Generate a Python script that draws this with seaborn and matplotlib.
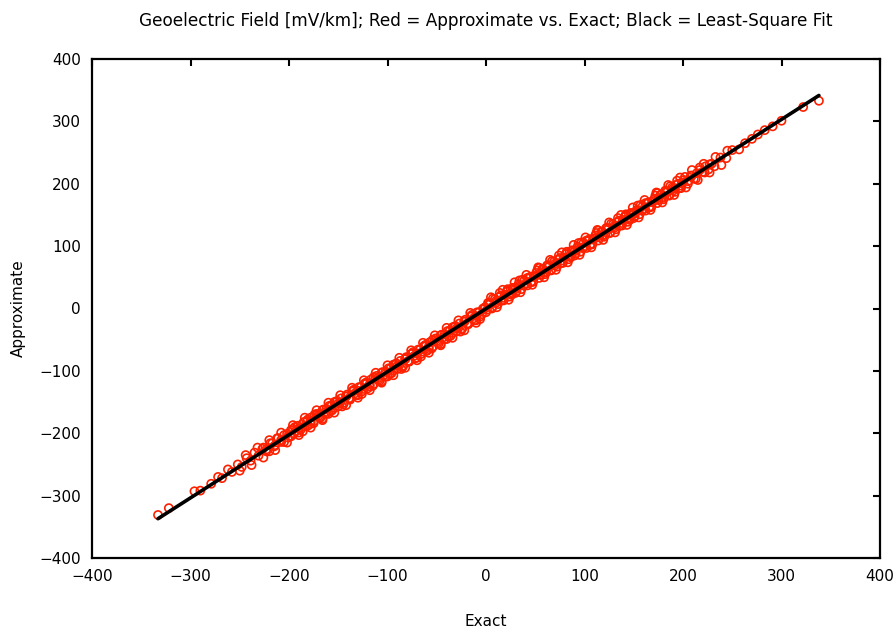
import numpy as np
import pandas as pd
import matplotlib
matplotlib.use("Agg")
import matplotlib.pyplot as plt
import seaborn as sns

# Values (Exact vs Approximate, mV/km)
exact_neg = [-333, -322, -296, -290, -279, -272, -268, -262, -258, -252, -248, -243, -239, -235,
             -231, -227, -223, -219, -215, -212, -208, -205, -201, -198, -195, -191, -188, -185,
             -181, -178, -175, -172, -168, -165, -162, -159, -156, -153, -150, -147, -144, -141,
             -138, -135, -132, -129, -126, -123, -120, -117, -114, -111, -108, -105, -102, -99,
             -96, -93, -90, -87, -84, -81, -78, -75, -72, -69, -66, -63, -60, -57, -54, -51,
             -48, -45, -42, -39, -36, -33, -30, -27, -24, -21, -18, -15, -12, -9, -6, -3, 0]
approx_neg = [-331, -320, -293, -292, -281, -270, -272, -258, -262, -250, -254, -240, -244, -231,
              -236, -225, -229, -216, -221, -208, -214, -203, -207, -195, -201, -188, -194, -182,
              -188, -175, -181, -169, -175, -162, -168, -156, -163, -150, -157, -144, -151, -138,
              -146, -132, -139, -126, -133, -120, -128, -114, -121, -108, -116, -102, -109, -96,
              -104, -90, -97, -84, -92, -78, -85, -72, -80, -66, -73, -60, -68, -54, -61, -48,
              -56, -42, -49, -36, -44, -30, -37, -24, -32, -18, -25, -12, -19, -6, -13, 0, -6]
exact_pos = [3, 6, 9, 12, 15, 18, 21, 24, 27, 30, 33, 36, 39, 42, 45, 48, 51, 54, 57, 60, 63, 66,
             69, 72, 75, 78, 81, 84, 87, 90, 93, 96, 99, 102, 105, 108, 111, 114, 117, 120, 123,
             126, 129, 132, 135, 138, 141, 144, 147, 150, 153, 156, 159, 162, 165, 168, 171, 174,
             177, 180, 183, 186, 189, 192, 195, 198, 201, 205, 209, 213, 217, 222, 227, 232, 238,
             244, 250, 257, 263, 270, 276, 283, 291, 300, 322, 338]
approx_pos = [8, 0, 15, 7, 21, 13, 27, 19, 33, 25, 39, 31, 45, 37, 51, 43, 57, 49, 63, 55, 69, 61,
              75, 67, 81, 73, 87, 79, 93, 85, 99, 91, 105, 97, 111, 103, 117, 109, 123, 115, 129,
              121, 135, 127, 141, 133, 147, 139, 153, 145, 158, 151, 164, 157, 170, 163, 176, 169,
              182, 175, 188, 181, 194, 187, 200, 193, 206, 200, 213, 208, 222, 218, 231, 228, 242,
              241, 254, 255, 265, 272, 279, 286, 292, 301, 323, 333]
# denser core of the cloud
exact_core_neg = [-226, -223, -220, -217, -214, -211, -208, -205, -202, -199, -196, -193, -190,
                  -187, -184, -181, -178, -175, -172, -169, -166, -163, -160, -157, -154, -151,
                  -148, -145, -142, -139, -136, -133, -130, -127, -124, -121, -118, -115, -112,
                  -109, -106, -103, -100, -97, -94, -91, -88, -85, -82, -79, -76, -73, -70, -67,
                  -64, -61, -58, -55, -52, -49, -46, -43, -40, -37, -34, -31, -28, -25, -22, -19,
                  -16, -13, -10, -7, -4, -1]
approx_core_neg = [-223, -226, -229, -216, -219, -208, -211, -214, -201, -204, -193, -196, -199,
                   -186, -189, -178, -181, -184, -171, -174, -163, -166, -169, -156, -159, -148,
                   -151, -154, -141, -144, -133, -136, -139, -126, -129, -118, -121, -124, -111,
                   -114, -103, -106, -109, -96, -99, -88, -91, -94, -81, -84, -73, -76, -79, -66,
                   -69, -58, -61, -64, -51, -54, -43, -46, -49, -36, -39, -28, -31, -34, -21, -24,
                   -13, -16, -19, -6, -9, 2]
exact_core_pos = [1, 4, 7, 10, 13, 16, 19, 22, 25, 28, 31, 34, 37, 40, 43, 46, 49, 52, 55, 58, 61,
                  64, 67, 70, 73, 76, 79, 82, 85, 88, 91, 94, 97, 100, 103, 106, 109, 112, 115,
                  118, 121, 124, 127, 130, 133, 136, 139, 142, 145, 148, 151, 154, 157, 160, 163,
                  166, 169, 172, 175, 178, 181, 184, 187, 190, 193, 196, 199, 202, 205, 208, 211,
                  214, 217, 220, 223, 226, 229]
approx_core_pos = [-2, 7, 16, 9, 18, 13, 22, 31, 24, 33, 28, 37, 46, 39, 48, 43, 52, 61, 54, 63,
                   58, 67, 76, 69, 78, 73, 82, 91, 84, 93, 88, 97, 106, 99, 108, 103, 112, 121,
                   114, 123, 118, 127, 136, 129, 138, 133, 142, 151, 144, 153, 148, 157, 166, 159,
                   168, 163, 172, 181, 174, 183, 178, 187, 196, 189, 198, 193, 202, 211, 204, 213,
                   208, 217, 226, 219, 228, 223, 232]
# outer edge of the cloud
exact_edge_neg = [-250, -244, -238, -232, -226, -220, -214, -208, -202, -196, -190, -184, -178,
                  -172, -166, -160, -154, -148, -142, -136, -130, -124, -118, -112, -106, -100,
                  -94, -88, -82, -76, -70, -64, -58, -52, -46, -40, -34, -28, -22, -16, -10]
approx_edge_neg = [-260, -235, -251, -223, -239, -211, -227, -199, -215, -187, -203, -175, -191,
                   -163, -179, -151, -167, -139, -155, -127, -143, -115, -131, -103, -119, -91,
                   -107, -79, -95, -67, -83, -55, -71, -43, -59, -31, -47, -19, -35, -7, -23]
exact_edge_pos = [5, 11, 17, 23, 29, 35, 41, 47, 53, 59, 65, 71, 77, 83, 89, 95, 101, 107, 113,
                  119, 125, 131, 137, 143, 149, 155, 161, 167, 173, 179, 185, 191, 197, 203, 209,
                  215, 221, 227, 233, 239, 245]
approx_edge_pos = [18, 2, 30, 14, 42, 26, 54, 38, 66, 50, 78, 62, 90, 74, 102, 86, 114, 98, 126,
                   110, 138, 122, 150, 134, 162, 146, 174, 158, 186, 170, 198, 182, 210, 194, 222,
                   206, 232, 218, 243, 230, 253]
# inner fill of the cloud
exact_fill_neg = [-198, -194, -190, -186, -182, -178, -174, -170, -166, -162, -158, -154, -150,
                  -146, -142, -138, -134, -130, -126, -122, -118, -114, -110, -106, -102, -98,
                  -94, -90, -86, -82, -78, -74, -70, -66, -62, -58, -54, -50, -46, -42, -38, -34,
                  -30, -26, -22, -18, -14, -10, -6, -2]
approx_fill_neg = [-205, -190, -192, -197, -181, -185, -170, -172, -177, -161, -165, -150, -152,
                   -157, -141, -145, -130, -132, -137, -121, -125, -110, -112, -117, -101, -105,
                   -90, -92, -97, -81, -85, -70, -72, -77, -61, -65, -50, -52, -57, -41, -45,
                   -30, -32, -37, -21, -25, -10, -12, -17, -1]
exact_fill_pos = [2, 6, 10, 14, 18, 22, 26, 30, 34, 38, 42, 46, 50, 54, 58, 62, 66, 70, 74, 78,
                  82, 86, 90, 94, 98, 102, 106, 110, 114, 118, 122, 126, 130, 134, 138, 142, 146,
                  150, 154, 158, 162, 166, 170, 174, 178, 182, 186, 190, 194, 198]
approx_fill_pos = [9, 2, 12, 25, 17, 29, 22, 32, 45, 37, 49, 42, 52, 65, 57, 69, 62, 72, 85, 77,
                   89, 82, 92, 105, 97, 109, 102, 112, 125, 117, 129, 122, 132, 145, 137, 149,
                   142, 152, 165, 157, 169, 162, 172, 185, 177, 189, 182, 192, 205, 197]

ticks = [-400, -300, -200, -100, 0, 100, 200, 300, 400]

exact = (exact_neg + exact_pos + exact_core_neg + exact_core_pos + exact_edge_neg
         + exact_edge_pos + exact_fill_neg + exact_fill_pos)
approx = (approx_neg + approx_pos + approx_core_neg + approx_core_pos + approx_edge_neg
          + approx_edge_pos + approx_fill_neg + approx_fill_pos)
df = pd.DataFrame({"Exact": exact, "Approximate": approx})

sns.set_theme(style="white")
plt.rcParams["font.family"] = ["DejaVu Sans"]
plt.rcParams["text.color"] = "black"
plt.rcParams["axes.labelcolor"] = "black"

fig = plt.figure(figsize=(8.96, 6.34), dpi=100)
ax = fig.add_axes([92 / 896, 1 - 558 / 634, (880 - 92) / 896, (558 - 59) / 634])

sns.scatterplot(data=df, x="Exact", y="Approximate", ax=ax, marker="o", s=34,
                facecolors="none", edgecolor="#ff2000", linewidth=1.2, zorder=2)
sns.regplot(data=df, x="Exact", y="Approximate", ax=ax, scatter=False, ci=None,
            color="black", line_kws={"linewidth": 2.6, "zorder": 3})

ax.set_xlim(-400, 400)
ax.set_ylim(-400, 400)
ax.set_xticks(ticks)
ax.set_yticks(ticks)
ax.tick_params(direction="in", length=5, width=1.5, top=True, right=True,
               labelsize=11, colors="black", pad=8)
for sp in ax.spines.values():
    sp.set_linewidth(1.6)
    sp.set_color("black")
ax.set_xlabel("Exact", fontsize=11)
ax.set_ylabel("Approximate", fontsize=11)
ax.xaxis.set_label_coords(0.5, (558 - 622) / 499)
ax.yaxis.set_label_coords((18 - 92) / 788, 0.5)
ax.xaxis.label.set_verticalalignment("center")
ax.yaxis.label.set_verticalalignment("center")
ax.set_title("Geoelectric Field [mV/km]; Red = Approximate vs. Exact; Black = Least-Square Fit",
             fontsize=12.2, pad=24)

fig.savefig("out.png", dpi=100)
